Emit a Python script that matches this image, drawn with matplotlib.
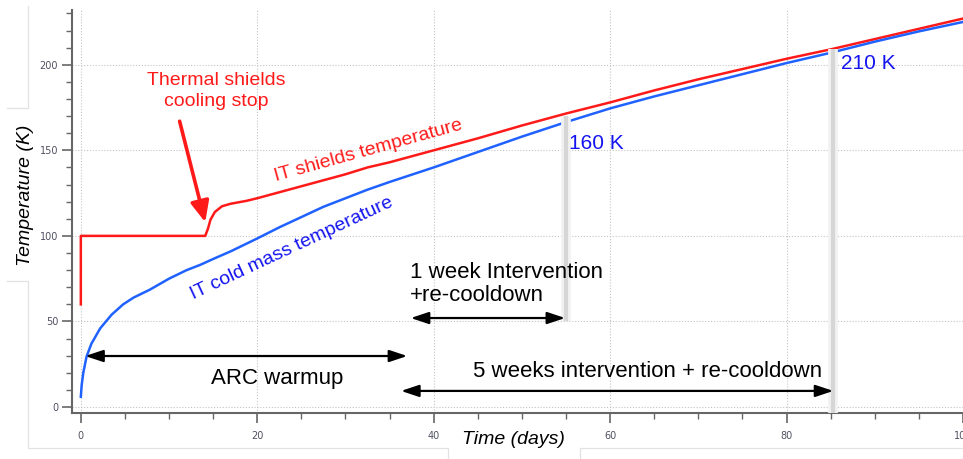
import numpy as np
import matplotlib
matplotlib.use("Agg")
import matplotlib.pyplot as plt
from matplotlib.lines import Line2D
from matplotlib.ticker import MultipleLocator

# IT cold mass temperature during ARC warmup (days, K)
cold_days = [0, 0.1, 0.28, 0.65, 1.2, 2.2, 3.5, 4.8, 6, 7.8, 10, 12, 13.5, 15, 17,
             20, 22.5, 25, 27.5, 30, 32.5, 35, 40, 45, 50, 55, 60, 65, 70, 75, 80,
             85, 90, 95, 100]
cold_temp = [6, 13, 20, 29.5, 37, 46, 54, 60, 64, 68.5, 75, 80, 83, 86.5, 91,
             98.5, 105, 111, 117, 122, 127, 131.5, 140, 149, 158, 166.5, 174.5,
             181.5, 188, 194.5, 201, 207, 213.5, 219.5, 225]

# IT thermal shields temperature (cooling stops at ~14 days)
shield_days = [0, 0, 14.1, 14.4, 14.7, 15.2, 16, 17, 18.8, 20, 22.5, 25, 27.5, 30,
               32.5, 35, 37.5, 40, 45, 50, 55, 60, 65, 70, 75, 80, 85, 90, 95, 100]
shield_temp = [60, 100, 100, 104, 109.5, 114, 117.3, 118.8, 120.5, 122, 125.5, 129,
               132.5, 136, 140, 143, 146.5, 150, 157, 164.5, 171.5, 178, 185, 191.5,
               197.5, 203.5, 209, 215, 221, 227]

# intervention markers: (day, bottom, top)
markers = [(55, 50, 170), (85.3, -3.5, 209)]

W, H = 963, 459
fig = plt.figure(figsize=(W / 100, H / 100), dpi=100)
ax = fig.add_axes([72 / W, 46 / H, 891 / W, 403 / H])
ax.set_xlim(-1, 100)
ax.set_ylim(-3.5, 232)

RED = "#ff1a1a"
BLUE = "#1f62ff"
TXT_BLUE = "#1414f0"
FONT = "Liberation Sans"

ax.plot(shield_days, shield_temp, color=RED, lw=1.8, zorder=4)
ax.plot(cold_days, cold_temp, color=BLUE, lw=1.8, zorder=4)

for d, lo, hi in markers:
    ax.plot([d, d], [lo, hi], color="#f2f2f2", lw=7, solid_capstyle="butt", zorder=5)
    ax.plot([d, d], [lo, hi], color="#d6d6d6", lw=3, solid_capstyle="butt", zorder=6)

# axes styling
for s in ["top", "right"]:
    ax.spines[s].set_visible(False)
for s in ["left", "bottom"]:
    ax.spines[s].set_color("#666666")
    ax.spines[s].set_linewidth(1.5)
ax.xaxis.set_major_locator(MultipleLocator(20))
ax.xaxis.set_minor_locator(MultipleLocator(5))
ax.yaxis.set_major_locator(MultipleLocator(50))
ax.yaxis.set_minor_locator(MultipleLocator(10))
ax.tick_params(which="major", length=7, width=1.2, color="#666666",
               labelsize=7, labelcolor="#505062")
ax.tick_params(which="minor", length=4, width=1.0, color="#666666")
ax.tick_params(axis="x", pad=6)
ax.tick_params(axis="y", pad=3)
ax.set_xticks([0, 20, 40, 60, 80, 100])
ax.set_yticks([0, 50, 100, 150, 200])
ax.grid(which="major", color="#c4c4c4", ls=(0, (1, 1.6)), lw=0.8)
ax.set_axisbelow(True)

fig.text(25 / W, 1 - 195 / H, "Temperature (K)", rotation=90, ha="center",
         va="center", fontsize=14, style="italic", family=FONT)
fig.text(513 / W, 1 - 440 / H, "Time (days)", ha="center", va="center",
         fontsize=14, style="italic", family=FONT)

# curve labels
ax.text(15.3, 184.5, "Thermal shields\ncooling stop", color=RED, fontsize=14,
        ha="center", va="center", family=FONT, linespacing=1.3)
ax.annotate("", xy=(14.1, 108), xytext=(11.2, 167),
            arrowprops=dict(arrowstyle="-|>,head_length=0.9,head_width=0.4",
                            color=RED, lw=2.6, mutation_scale=14,
                            shrinkA=0, shrinkB=0))
ax.text(32.6, 150, "IT shields temperature", color=RED, fontsize=14,
        rotation=15.5, ha="center", va="center", family=FONT,
        rotation_mode="anchor")
ax.text(23.9, 92.5, "IT cold mass temperature", color=TXT_BLUE, fontsize=14,
        rotation=25, ha="center", va="center", family=FONT,
        rotation_mode="anchor")

ax.text(55.3, 154, "160 K", color=TXT_BLUE, fontsize=15, ha="left", va="center",
        family=FONT, zorder=7)
ax.text(86.2, 201, "210 K", color=TXT_BLUE, fontsize=15, ha="left", va="center",
        family=FONT, zorder=7)

# duration arrows
arrow_kw = dict(arrowstyle="<|-|>,head_length=0.9,head_width=0.3", color="black",
                lw=1.6, mutation_scale=12, shrinkA=0, shrinkB=0)
ax.annotate("", xy=(0.5, 29.8), xytext=(37.0, 29.8), arrowprops=arrow_kw, zorder=7)
ax.annotate("", xy=(37.4, 52), xytext=(54.9, 52), arrowprops=arrow_kw, zorder=7)
ax.annotate("", xy=(36.3, 9.4), xytext=(85.3, 9.4), arrowprops=arrow_kw, zorder=7)

ax.text(22.3, 16.5, "ARC warmup", fontsize=16, ha="center", va="center", family=FONT)
ax.text(37.3, 72, "1 week Intervention\n+re-cooldown", fontsize=16, ha="left",
        va="center", family=FONT, linespacing=1.15, zorder=8)
ax.text(64.3, 20.5, "5 weeks intervention + re-cooldown", fontsize=16, ha="center",
        va="center", family=FONT)

# faint frame around the plot area
frame = [
    [(7, 108), (28, 108), (28, 6)],
    [(7, 281), (28, 281), (28, 448), (448, 448), (448, 459)],
    [(580, 459), (580, 448), (963, 448)],
]
for seg in frame:
    xs = [p[0] / W for p in seg]
    ys = [1 - p[1] / H for p in seg]
    fig.add_artist(Line2D(xs, ys, color="#e2e2e2", lw=0.9, transform=fig.transFigure))

fig.savefig("out.png", dpi=100)
